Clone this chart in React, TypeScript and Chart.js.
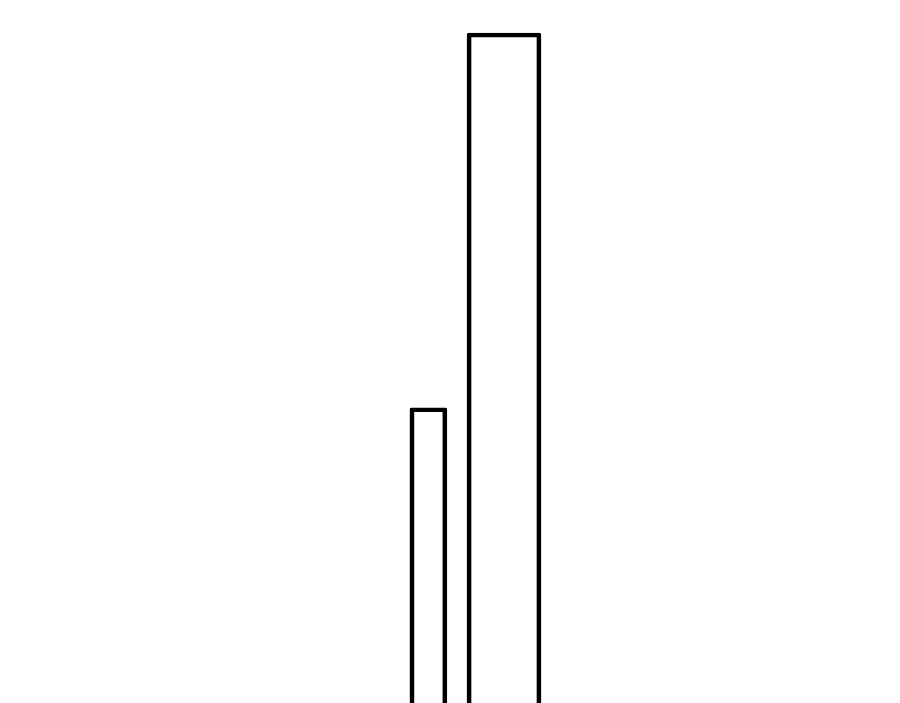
import { useEffect, useRef } from "react";
import Chart from "chart.js/auto";

// bar centres on a hidden 0-100 horizontal scale, heights on a hidden 0-100 scale
const positions = [47.6, 56.0];
const heights = [42.0, 95.3];
const thickness = [37, 74];

const App = () => {
  const chartRef = useRef<HTMLCanvasElement | null>(null);

  useEffect(() => {
    const ctx = chartRef.current?.getContext("2d");
    if (!ctx) return;

    const datasets = positions.map((x, i) => ({
      label: `Bar ${i + 1}`,
      data: [{ x, y: heights[i] }],
      backgroundColor: "rgba(0,0,0,0)",
      borderColor: "#000000",
      borderWidth: 4,
      borderRadius: 2,
      barThickness: thickness[i],
      grouped: false,
    }));

    const chart = new Chart(ctx, {
      type: "bar",
      data: { datasets },
      options: {
        responsive: false,
        animation: false,
        layout: { padding: 0 },
        plugins: {
          legend: { display: false },
          tooltip: { enabled: false },
        },
        scales: {
          x: { type: "linear", min: 0, max: 100, offset: false, display: false },
          y: { min: 0, max: 100, display: false },
        },
      },
    });

    return () => {
      chart.destroy();
    };
  }, []);

  return (
    <div style={{ position: "fixed", left: 0, top: 0, width: 900, height: 703, background: "#fff" }}>
      <canvas ref={chartRef} width={900} height={703}></canvas>
    </div>
  );
};

export default App;
